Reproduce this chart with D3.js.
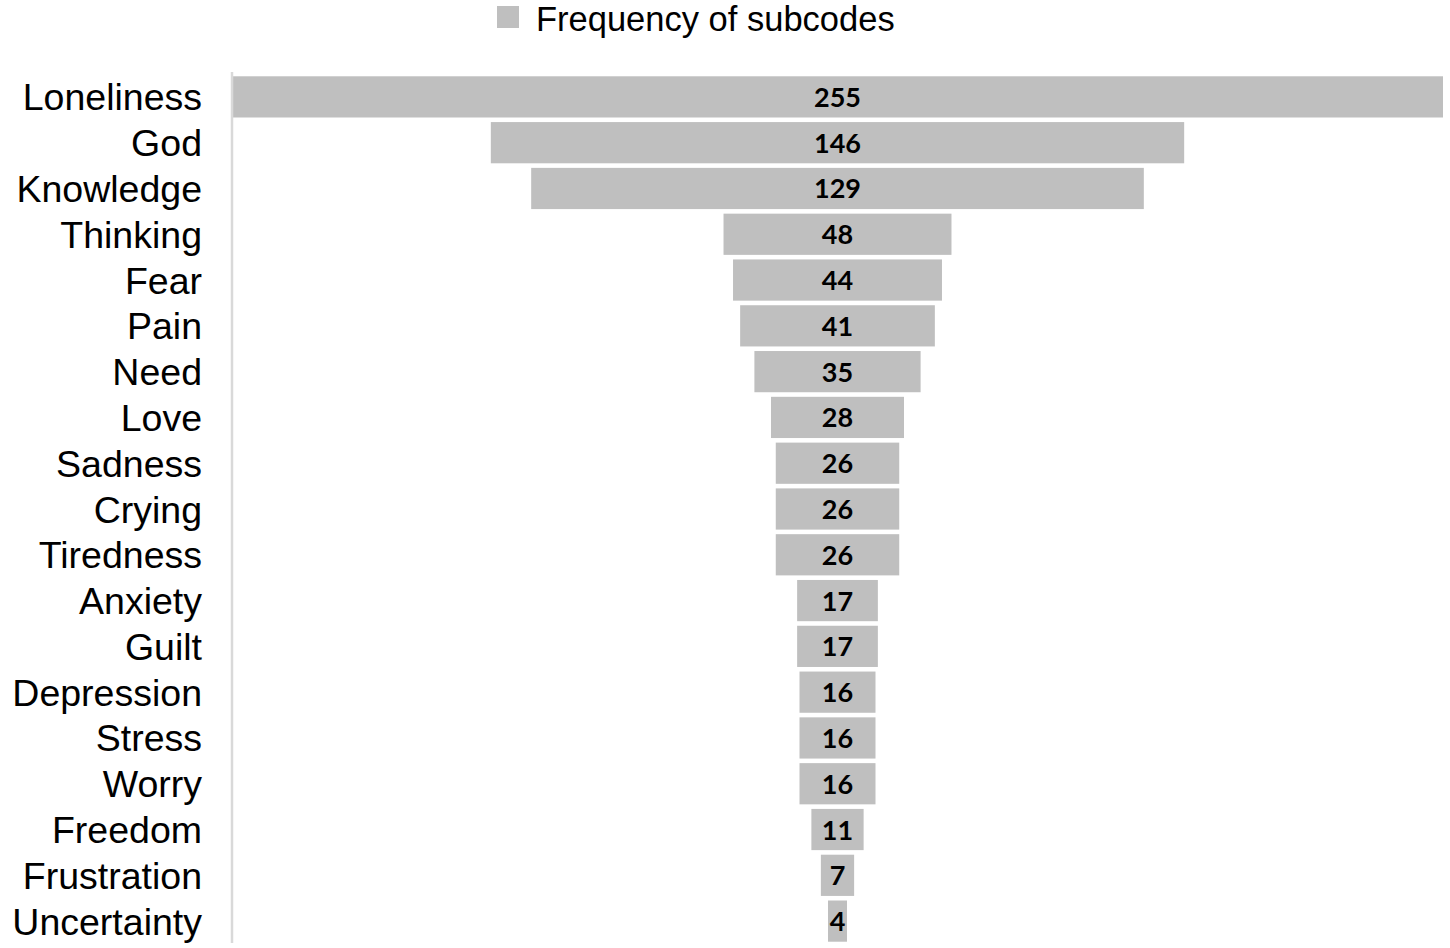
<!DOCTYPE html>
<html>
<head>
<meta charset="utf-8">
<script src="https://cdn.jsdelivr.net/npm/d3@7"></script>
<style>
  html, body { margin: 0; padding: 0; background: #fff; }
  svg { display: block; }
</style>
</head>
<body>
<svg id="chart"></svg>
<script>
// funnel of subcode frequencies
const categories = ['Loneliness', 'God', 'Knowledge', 'Thinking', 'Fear', 'Pain', 'Need', 'Love',
    'Sadness', 'Crying', 'Tiredness', 'Anxiety', 'Guilt', 'Depression', 'Stress', 'Worry',
    'Freedom', 'Frustration', 'Uncertainty'];
const frequencies = [255, 146, 129, 48, 44, 41, 35, 28, 26, 26, 26, 17, 17, 16, 16, 16, 11, 7, 4];
const seriesName = 'Frequency of subcodes';

const W = 1450, H = 948;
const plotLeft = 232, plotWidth = 1211;
const centerX = plotLeft + plotWidth / 2;

const svg = d3.select('#chart').attr('width', W).attr('height', H);

const data = categories.map((c, i) => ({ category: c, value: frequencies[i] }));

const y = d3.scaleBand()
    .domain(categories)
    .range([74, 944])
    .paddingInner(0.1)
    .paddingOuter(0.05);

const w = d3.scaleLinear()
    .domain([0, d3.max(frequencies)])
    .range([0, plotWidth]);

// bars
svg.append('g').selectAll('rect')
    .data(data)
    .join('rect')
    .attr('x', d => centerX - w(d.value) / 2)
    .attr('y', d => y(d.category))
    .attr('width', d => w(d.value))
    .attr('height', y.bandwidth())
    .attr('fill', '#bfbfbf');

// vertical axis line
svg.append('line')
    .attr('x1', plotLeft).attr('x2', plotLeft)
    .attr('y1', 72).attr('y2', 943)
    .attr('stroke', '#d9d9d9')
    .attr('stroke-width', 2.5);

// category labels
svg.append('g').selectAll('text')
    .data(data)
    .join('text')
    .attr('x', 202)
    .attr('y', d => y(d.category) + y.bandwidth() / 2)
    .attr('dy', '0.36em')
    .attr('text-anchor', 'end')
    .style('font-family', '"Liberation Sans", Arial, sans-serif')
    .style('font-size', '37.5px')
    .style('fill', '#000')
    .text(d => d.category);

// value labels
svg.append('g').selectAll('text')
    .data(data)
    .join('text')
    .attr('x', centerX)
    .attr('y', d => y(d.category) + y.bandwidth() / 2)
    .attr('dy', '0.37em')
    .attr('text-anchor', 'middle')
    .style('font-family', 'Lato, "Open Sans", sans-serif')
    .style('font-weight', 'bold')
    .style('font-size', '27px')
    .style('fill', '#000')
    .text(d => d.value);

// legend
const legend = svg.append('g');
legend.append('rect')
    .attr('x', 497).attr('y', 6)
    .attr('width', 22).attr('height', 22)
    .attr('fill', '#bfbfbf');
legend.append('text')
    .attr('x', 536).attr('y', 19)
    .attr('dy', '0.36em')
    .style('font-family', '"Liberation Sans", Arial, sans-serif')
    .style('font-size', '34.5px')
    .style('fill', '#000')
    .text(seriesName);
</script>
</body>
</html>
